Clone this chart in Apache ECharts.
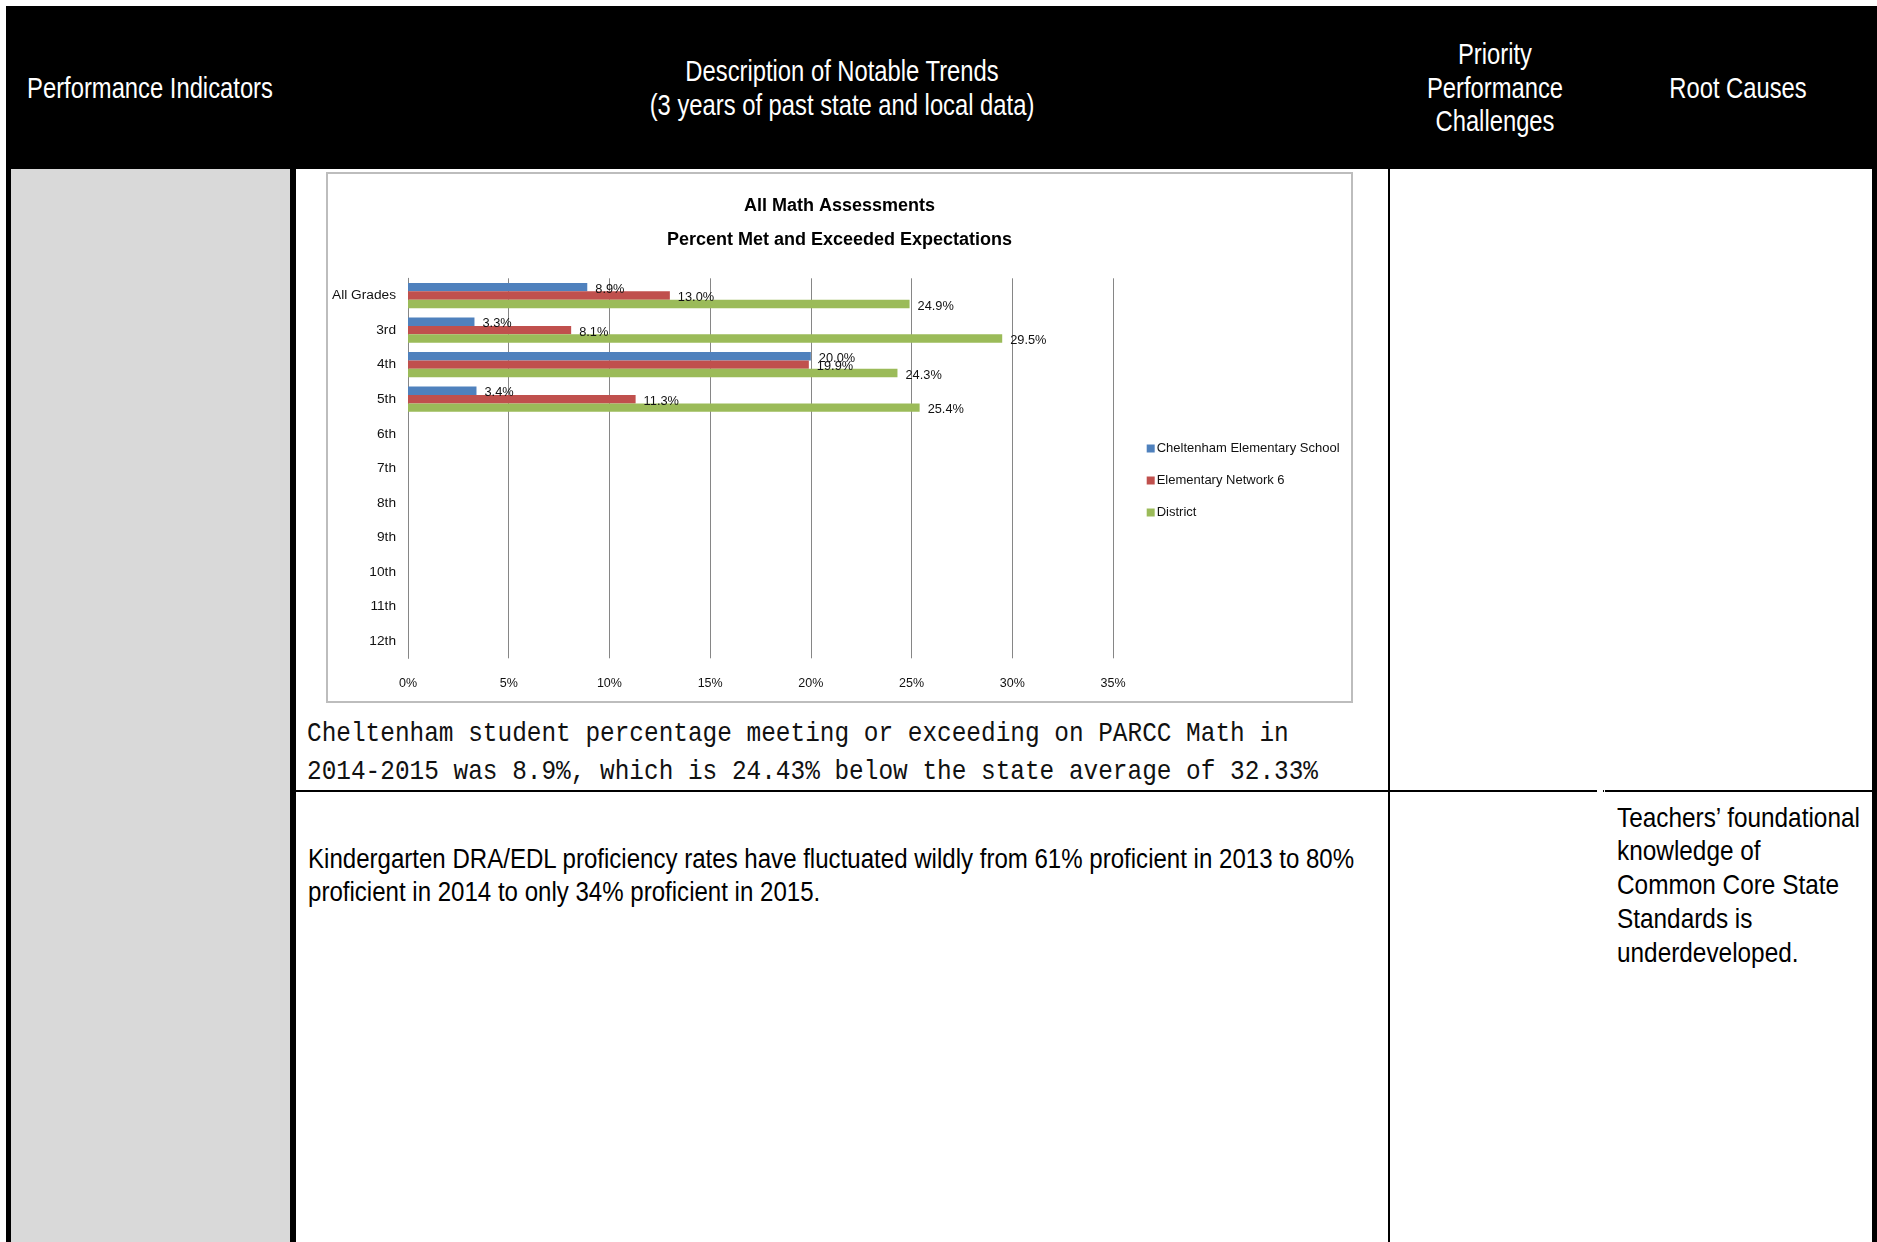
<!DOCTYPE html>
<html><head><meta charset="utf-8">
<script src="https://cdn.jsdelivr.net/npm/echarts@6/dist/echarts.min.js"></script>
<style>
html,body{margin:0;padding:0;width:1877px;height:1242px;overflow:hidden;background:#fff;}
.abs{position:absolute;}
.blk{position:absolute;background:#000;}
.nar{font-family:'Liberation Sans',Arial,sans-serif;}
.hdr{position:absolute;color:#fff;font-size:29px;line-height:33.5px;white-space:nowrap;text-align:center;transform:scaleX(0.82);transform-origin:50% 50%;}
.body{position:absolute;color:#000;white-space:nowrap;transform-origin:0 50%;}
</style></head>
<body>
<!-- header band -->
<div class="blk" style="left:6px;top:6px;width:1871px;height:163px"></div>
<!-- left border -->
<div class="blk" style="left:6px;top:169px;width:5px;height:1073px"></div>
<!-- grey first column -->
<div class="abs" style="left:11px;top:169px;width:279px;height:1073px;background:#d9d9d9"></div>
<!-- thick divider -->
<div class="blk" style="left:290px;top:169px;width:6px;height:1073px"></div>
<!-- column divider -->
<div class="blk" style="left:1388px;top:169px;width:2px;height:1073px"></div>
<!-- right border -->
<div class="blk" style="left:1872px;top:6px;width:5px;height:1236px"></div>
<!-- row divider -->
<div class="blk" style="left:296px;top:790px;width:1301px;height:2px"></div>
<div class="blk" style="left:1603px;top:790px;width:1px;height:2px"></div>
<div class="blk" style="left:1605px;top:790px;width:267px;height:2px"></div>

<!-- header texts (boxes centred on each column) -->
<div class="hdr nar" style="left:-50px;top:71.8px;width:400px;">Performance Indicators</div>
<div class="hdr nar" style="left:296px;top:55px;width:1092px;">Description of Notable Trends<br>(3 years of past state and local data)</div>
<div class="hdr nar" style="left:1345px;top:38px;width:300px;">Priority<br>Performance<br>Challenges</div>
<div class="hdr nar" style="left:1588px;top:71.8px;width:300px;">Root Causes</div>

<!-- chart frame -->
<div class="abs" style="left:326px;top:172px;width:1027px;height:531px;border:2px solid #bdbdbd;box-sizing:border-box;"></div>
<div id="chart" class="abs" style="left:328px;top:174px;width:1023px;height:527px;"></div>

<!-- body texts -->
<div class="body" style="left:307px;top:715px;font-family:'Liberation Mono','DejaVu Sans Mono',monospace;font-size:28px;line-height:38px;color:#111;transform:scaleX(0.872);">Cheltenham student percentage meeting or exceeding on PARCC Math in<br>2014-2015 was 8.9%, which is 24.43% below the state average of 32.33%</div>
<div class="body nar" style="left:307.5px;top:843.4px;font-size:27px;line-height:32.3px;transform:scaleX(0.891);">Kindergarten DRA/EDL proficiency rates have fluctuated wildly from 61% proficient in 2013 to 80%<br>proficient in 2014 to only 34% proficient in 2015.</div>
<div class="body nar" style="left:1617px;top:800.6px;font-size:27.5px;line-height:33.8px;transform:scaleX(0.886);">Teachers’ foundational<br>knowledge of<br>Common Core State<br>Standards is<br>underdeveloped.</div>

<script>
const categories = ['All Grades','3rd','4th','5th','6th','7th','8th','9th','10th','11th','12th'];
const seriesNames = ['Cheltenham Elementary School','Elementary Network 6','District'];
const cheltenham = [8.9, 3.3, 20.0, 3.4, null, null, null, null, null, null, null];
const network6   = [13.0, 8.1, 19.9, 11.3, null, null, null, null, null, null, null];
const district   = [24.9, 29.5, 24.3, 25.4, null, null, null, null, null, null, null];
const colors = ['#4F81BD','#C0504D','#9BBB59'];
const titleLines = ['All Math Assessments','Percent Met and Exceeded Expectations'];

const FONT = "'Liberation Sans',Arial,sans-serif";
const chart = echarts.init(document.getElementById('chart'), null, {renderer:'canvas'});
const mk = (name, data, color) => ({
  name: name, type: 'bar', data: data,
  barGap: '0%', barCategoryGap: '27%',
  itemStyle: {color: color},
  label: {show: true, position: 'right', distance: 8, offset: [0, 2], color: '#111',
    fontFamily: FONT, fontSize: 12.8,
    formatter: p => (p.value == null ? '' : p.value.toFixed(1) + '%')}
});
chart.setOption({
  animation: false,
  backgroundColor: '#fff',
  title: {text: titleLines.join('\n'), left: 'center', top: 10.5,
    textStyle: {fontFamily: FONT, fontWeight: 'bold', fontSize: 18, lineHeight: 34, color: '#000'}},
  legend: {orient: 'vertical', left: 818.7, top: 266.5, padding: 0, itemWidth: 8, itemHeight: 8, itemGap: 16,
    icon: 'rect', data: seriesNames,
    textStyle: {fontFamily: FONT, fontSize: 13, lineHeight: 16, color: '#111', padding: [0,0,0,-3]}},
  grid: {left: 80, top: 104.3, width: 705, height: 380, containLabel: false, outerBoundsMode: 'none'},
  xAxis: {type: 'value', min: 0, max: 35, interval: 5,
    axisLine: {show: false}, axisTick: {show: false},
    axisLabel: {formatter: '{value}%', fontFamily: FONT, fontSize: 12.5, color: '#111', margin: 19},
    splitLine: {show: true, lineStyle: {color: '#868686', width: 1}}},
  yAxis: {type: 'category', data: categories, inverse: true,
    axisLine: {show: true, lineStyle: {color: '#868686', width: 1}}, axisTick: {show: false},
    axisLabel: {fontFamily: FONT, fontSize: 13.7, color: '#111', margin: 12}},
  series: [mk(seriesNames[0], cheltenham, colors[0]), mk(seriesNames[1], network6, colors[1]), mk(seriesNames[2], district, colors[2])]
});
</script>
</body></html>
